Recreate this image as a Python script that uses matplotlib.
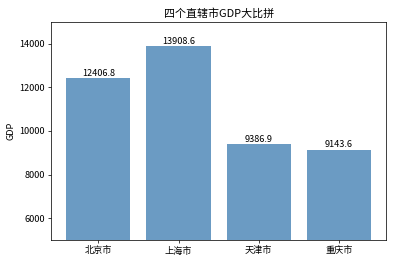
import matplotlib
matplotlib.use('Agg')
import matplotlib.pyplot as plt

plt.rcParams['font.family'] = ['Noto Sans CJK SC', 'DejaVu Sans']
plt.rcParams['axes.unicode_minus'] = False

cities = ['北京市', '上海市', '天津市', '重庆市']
gdp = [12406.8, 13908.6, 9386.9, 9143.6]

fig, ax = plt.subplots(figsize=(6, 4), dpi=66)
fig.subplots_adjust(left=0.129, right=0.975, top=0.917, bottom=0.091)

ax.bar(range(len(gdp)), gdp, color='steelblue', alpha=0.8, width=0.8)
ax.set_xticks(range(len(gdp)))
ax.set_xticklabels(cities)
ax.set_ylim(5000, 15000)
ax.set_ylabel('GDP')
ax.set_title('四个直辖市GDP大比拼')

for i, v in enumerate(gdp):
    ax.text(i, v + 100, '%s' % round(v, 1), ha='center')

fig.savefig('out.png', dpi=66)
